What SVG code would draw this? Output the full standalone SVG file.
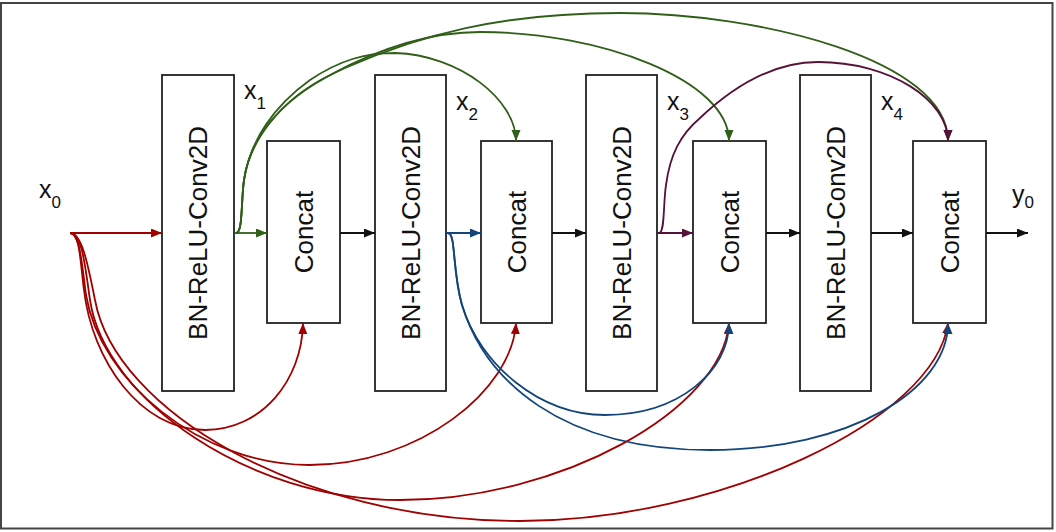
<svg xmlns="http://www.w3.org/2000/svg" width="1056" height="532" viewBox="0 0 1056 532">
<style>
.box{fill:#fff;stroke:#222;stroke-width:1.8}
.lbl{font-family:"Liberation Sans",Arial,sans-serif;font-size:26px;fill:#111;text-anchor:middle;dominant-baseline:central}
.var{font-family:"Liberation Sans",Arial,sans-serif;font-size:25px;fill:#111}
.sub{font-size:17px}
.e{fill:none;stroke-width:1.8}
.k{stroke:#111;marker-end:url(#ak)}
.r{stroke:#a00000;marker-end:url(#ar)}
.g{stroke:#2f5f18;marker-end:url(#ag)}
.b{stroke:#12467a;marker-end:url(#ab)}
.p{stroke:#561238;marker-end:url(#ap)}
</style>
<defs>
<marker id="ak" markerUnits="userSpaceOnUse" markerWidth="12" markerHeight="10" refX="11" refY="4.5" orient="auto"><path d="M0,0 L11,4.5 L0,9 z" fill="#111"/></marker>
<marker id="ar" markerUnits="userSpaceOnUse" markerWidth="12" markerHeight="10" refX="11" refY="4.5" orient="auto"><path d="M0,0 L11,4.5 L0,9 z" fill="#a00000"/></marker>
<marker id="ag" markerUnits="userSpaceOnUse" markerWidth="12" markerHeight="10" refX="11" refY="4.5" orient="auto"><path d="M0,0 L11,4.5 L0,9 z" fill="#2f5f18"/></marker>
<marker id="ab" markerUnits="userSpaceOnUse" markerWidth="12" markerHeight="10" refX="11" refY="4.5" orient="auto"><path d="M0,0 L11,4.5 L0,9 z" fill="#12467a"/></marker>
<marker id="ap" markerUnits="userSpaceOnUse" markerWidth="12" markerHeight="10" refX="11" refY="4.5" orient="auto"><path d="M0,0 L11,4.5 L0,9 z" fill="#561238"/></marker>
</defs>
<rect x="1" y="3" width="1051.5" height="525.5" fill="#fff" stroke="#444" stroke-width="2"/>

<g id="bn1"><rect class="box" x="162" y="75" width="72" height="316"/><text class="lbl" transform="translate(198,233) rotate(-90)">BN-ReLU-Conv2D</text></g>
<g id="concat1"><rect class="box" x="267" y="141" width="73" height="182"/><text class="lbl" transform="translate(303.5,232) rotate(-90)">Concat</text></g>
<g id="bn2"><rect class="box" x="375" y="75" width="71" height="316"/><text class="lbl" transform="translate(410.5,233) rotate(-90)">BN-ReLU-Conv2D</text></g>
<g id="concat2"><rect class="box" x="481" y="141" width="71" height="182"/><text class="lbl" transform="translate(516.5,232) rotate(-90)">Concat</text></g>
<g id="bn3"><rect class="box" x="586" y="75" width="71" height="316"/><text class="lbl" transform="translate(621.5,233) rotate(-90)">BN-ReLU-Conv2D</text></g>
<g id="concat3"><rect class="box" x="693" y="141" width="73" height="182"/><text class="lbl" transform="translate(729.5,232) rotate(-90)">Concat</text></g>
<g id="bn4"><rect class="box" x="800" y="75" width="71" height="316"/><text class="lbl" transform="translate(835.5,233) rotate(-90)">BN-ReLU-Conv2D</text></g>
<g id="concat4"><rect class="box" x="913" y="141" width="73" height="182"/><text class="lbl" transform="translate(949.5,232) rotate(-90)">Concat</text></g>

<g id="labels">
<text class="var" x="39" y="198">x<tspan class="sub" dy="10">0</tspan></text>
<text class="var" x="244" y="99">x<tspan class="sub" dy="10">1</tspan></text>
<text class="var" x="456" y="110">x<tspan class="sub" dy="10">2</tspan></text>
<text class="var" x="667" y="110">x<tspan class="sub" dy="10">3</tspan></text>
<text class="var" x="881" y="110">x<tspan class="sub" dy="10">4</tspan></text>
<text class="var" x="1012" y="203">y<tspan class="sub" dy="5">0</tspan></text>
</g>

<g id="connectors">
<!-- main flow -->
<path class="e r" d="M70,233 H162"/>
<path class="e g" d="M235,233 H267"/>
<path class="e k" d="M340,233 H375"/>
<path class="e b" d="M446,233 H481"/>
<path class="e k" d="M552,233 H586"/>
<path class="e p" d="M657,233 H693"/>
<path class="e k" d="M766,233 H800"/>
<path class="e k" d="M871,233 H913"/>
<path class="e k" d="M986,233 H1028"/>
<!-- red skips from x0 -->
<path class="e r" d="M70,233 C80,233 80,260 84,290 C92,360 140,430 205,430 C262,430 302,380 303,323"/>
<path class="e r" d="M70,233 C80,233 82,265 86,295 C100,380 200,465 309,465 C420,465 512,390 516,323"/>
<path class="e r" d="M70,233 C82,233 85,265 90,300 C105,400 250,500 400,500 C560,500 722,410 729,323"/>
<path class="e r" d="M70,233 C82,233 88,265 95,300 C115,410 300,521 520,521 C720,521 935,420 948,323"/>
<!-- green skips from x1 -->
<path class="e g" d="M236,233 C243,233 241,200 244,180 C250,140 275,105 310,80 C340,60 365,53 395,53 C460,55 516,100 516,141"/>
<path class="e g" d="M236,233 C243,233 241,200 244,180 C250,140 280,100 330,75 C380,48 430,32 480,32 C600,32 729,80 729,141"/>
<path class="e g" d="M236,233 C243,233 241,200 244,180 C250,135 285,95 345,68 C420,35 500,13 620,13 C760,13 948,60 948,141"/>
<!-- blue skips from x2 -->
<path class="e b" d="M448,233 C456,233 452,270 462,305 C480,365 540,415 605,415 C680,415 729,370 729,323"/>
<path class="e b" d="M448,233 C456,233 452,270 462,305 C485,380 560,450 710,450 C850,450 948,390 948,323"/>
<!-- purple skip from x3 -->
<path class="e p" d="M659,233 C665,233 663,205 666,185 C670,155 680,135 700,118 C735,85 775,62 818,62 C890,62 948,100 948,141"/>
</g>
</svg>
